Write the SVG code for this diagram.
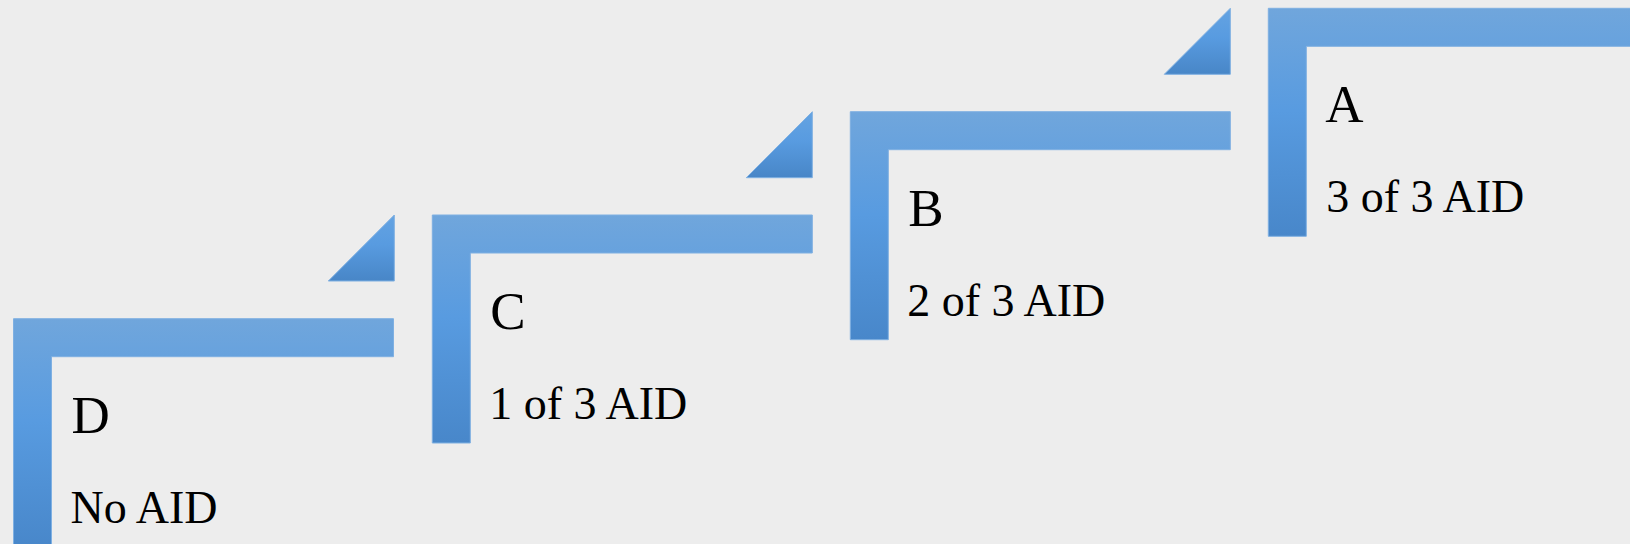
<svg xmlns="http://www.w3.org/2000/svg" width="1630" height="544" viewBox="0 0 1630 544">
  <defs>
    <linearGradient id="gBar" x1="0" y1="0" x2="0" y2="1">
      <stop offset="0" stop-color="#70a6dc"/>
      <stop offset="0.45" stop-color="#589be0"/>
      <stop offset="1" stop-color="#4887ca"/>
    </linearGradient>
    <linearGradient id="gTri" x1="0" y1="0" x2="0" y2="1">
      <stop offset="0" stop-color="#64a3e2"/>
      <stop offset="0.45" stop-color="#589be0"/>
      <stop offset="1" stop-color="#4886c7"/>
    </linearGradient>
    <!-- one step: L-shaped bracket, local origin at its outer corner -->
    <path id="bracket" d="M0,0 H380 V38 H38 V228 H0 Z"/>
    <!-- small wedge that sits to the left of a step -->
    <path id="wedge" d="M-38,0 V66 H-104 Z"/>
  </defs>
  <style>
    .bar { fill: url(#gBar); stroke: #7fb0e2; stroke-width: 1; }
    .tri { fill: url(#gTri); stroke: #7fb0e2; stroke-width: 1; }
    .title { font-family: "Liberation Serif", "Times New Roman", serif; font-size: 53px; fill: #000; }
    .sub { font-family: "Liberation Serif", "Times New Roman", serif; font-size: 46px; fill: #000; font-variant-numeric: oldstyle-nums; }
  </style>
  <rect width="1630" height="544" fill="#ededed"/>

  <g id="step-D" transform="translate(13.5,318.7)">
    <use href="#bracket" class="bar"/>
    <text class="title" x="58" y="114">D</text>
    <text class="sub" x="57" y="204">No AID</text>
  </g>

  <g id="step-C" transform="translate(432.3,215)">
    <use href="#wedge" class="tri"/>
    <use href="#bracket" class="bar"/>
    <text class="title" x="58" y="114">C</text>
    <text class="sub" x="57" y="204">1 of 3 AID</text>
  </g>

  <g id="step-B" transform="translate(850.3,111.7)">
    <use href="#wedge" class="tri"/>
    <use href="#bracket" class="bar"/>
    <text class="title" x="58" y="114">B</text>
    <text class="sub" x="57" y="204">2 of 3 AID</text>
  </g>

  <g id="step-A" transform="translate(1268.3,8.3)">
    <use href="#wedge" class="tri"/>
    <use href="#bracket" class="bar"/>
    <text class="title" x="57" y="114">A</text>
    <text class="sub" x="58" y="204">3 of 3 AID</text>
  </g>

  <g id="connectors"/>
</svg>
